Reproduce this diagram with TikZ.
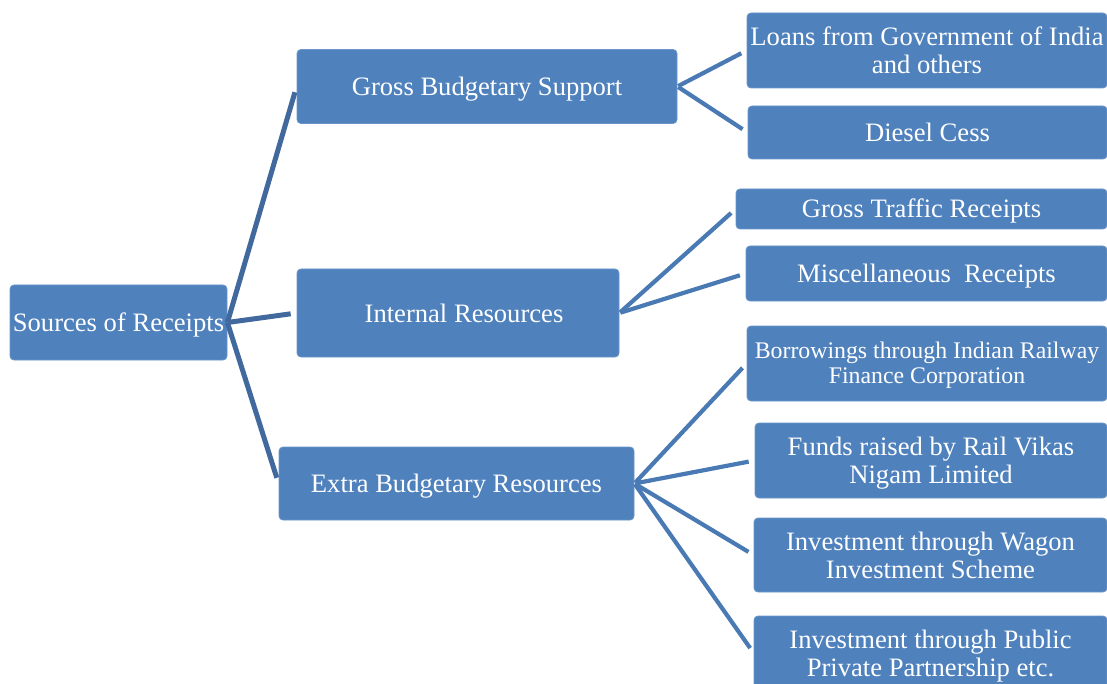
\documentclass[tikz,border=0pt]{standalone}
\usepackage{fontspec}
\setmainfont{Liberation Serif}
\definecolor{boxblue}{HTML}{4F81BD}
\definecolor{boxedge}{HTML}{6A95C9}
\definecolor{lineA}{HTML}{41699D}
\definecolor{lineB}{HTML}{4A7AB4}
\newcommand\topstrut{\rule{0pt}{24pt}}
\newcommand\botstrut{\rule[-6pt]{0pt}{6pt}}
\newcommand\topstrutS{\rule{0pt}{20pt}}
\newcommand\botstrutS{\rule[-5pt]{0pt}{5pt}}
\tikzset{
  blk/.style={fill=boxblue, draw=boxedge, line width=0.8pt, rounded corners=4pt,
    text=white, inner sep=0pt, align=center, font=\fontsize{26.6}{28}\selectfont},
  smallblk/.style={blk, font=\fontsize{23.8}{25.5}\selectfont},
  linkA/.style={draw=lineA, line width=5pt, shorten >=6pt},
  linkB/.style={draw=lineB, line width=4.2pt, shorten >=6pt, shorten <=1pt}
}
\begin{document}
\begin{tikzpicture}[x=1pt,y=-1pt]
\clip (0,0) rectangle (1107,684);
\fill[white] (0,0) rectangle (1107,684);
% level 0
\node[blk, minimum width=217pt, minimum height=75pt] (src) at (118.5,322.5) {\topstrut Sources of Receipts\botstrut};
% level 1
\node[blk, minimum width=380pt, minimum height=74pt] (gbs) at (487,86.5) {\topstrut Gross Budgetary Support\botstrut};
\node[blk, minimum width=322pt, minimum height=88pt] (int) at (458,313) {\hspace*{12pt}\topstrut Internal Resources\botstrut};
\node[blk, minimum width=355pt, minimum height=73pt] (ext) at (456.5,483.5) {\topstrut Extra Budgetary Resources\botstrut};
% level 2
\node[blk, minimum width=360pt, minimum height=75pt] (loans) at (927,50.5) {\topstrut Loans from Government of India\\and others\botstrut};
\node[blk, minimum width=359pt, minimum height=53pt] (diesel) at (927.5,132.5) {\topstrut Diesel Cess\botstrut};
\node[blk, minimum width=371pt, minimum height=40pt] (gtr) at (921.5,209) {\topstrut Gross Traffic Receipts\botstrut};
\node[blk, minimum width=361pt, minimum height=55pt] (misc) at (926.5,273.5) {\topstrut Miscellaneous~~Receipts\botstrut};
\node[smallblk, minimum width=360pt, minimum height=75pt] (borr) at (927,363.5) {\topstrutS Borrowings through Indian Railway\\Finance Corporation\botstrutS};
\node[blk, minimum width=352pt, minimum height=75pt] (funds) at (931,460.5) {\topstrut Funds raised by Rail Vikas\\Nigam Limited\botstrut};
\node[blk, minimum width=353pt, minimum height=74pt] (wagon) at (930.5,555) {\topstrut Investment through Wagon\\Investment Scheme\botstrut};
\node[blk, minimum width=353pt, minimum height=74pt] (ppp) at (930.5,653) {\topstrut Investment through Public\\Private Partnership etc.\botstrut};
% connectors level 0 -> 1
\draw[linkA] (src.east) -- (gbs.west);
\draw[linkA] (src.east) -- (int.west);
\draw[linkA] (src.east) -- (ext.west);
% connectors level 1 -> 2
\draw[linkB] (gbs.east) -- (loans.west);
\draw[linkB] (gbs.east) -- (diesel.west);
\draw[linkB] (int.east) -- (gtr.west);
\draw[linkB] (int.east) -- (misc.west);
\draw[linkB] (ext.east) -- (borr.west);
\draw[linkB] (ext.east) -- (funds.west);
\draw[linkB] (ext.east) -- (wagon.west);
\draw[linkB] (ext.east) -- (ppp.west);
\end{tikzpicture}
\end{document}
